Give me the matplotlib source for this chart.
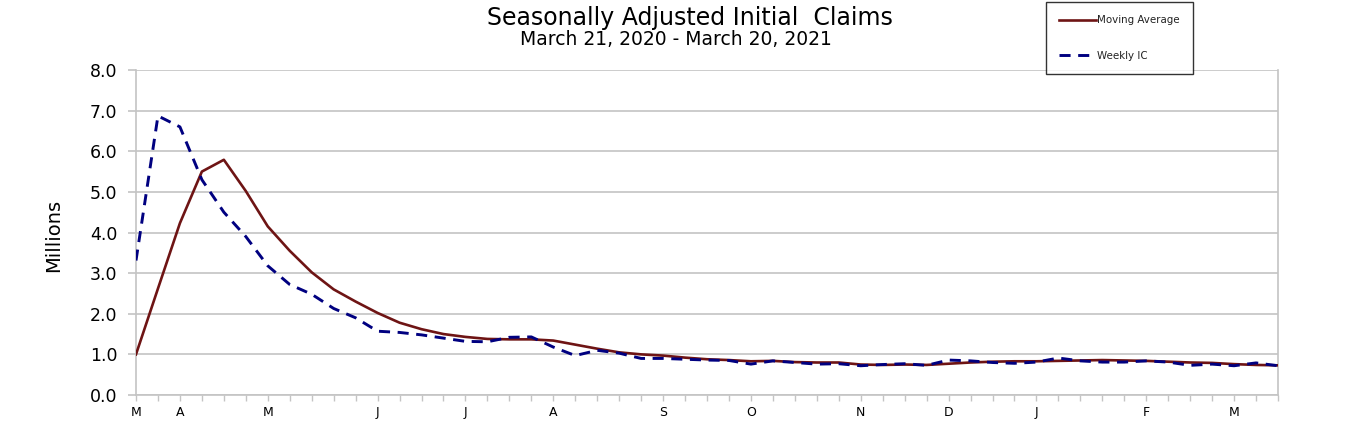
import matplotlib
matplotlib.use('Agg')
import matplotlib.pyplot as plt
from matplotlib.lines import Line2D

# weekly values, week ending March 21, 2020 through March 20, 2021 (millions)
weekly_ic = [3.31, 6.87, 6.60, 5.30, 4.50, 3.90, 3.18, 2.72, 2.48, 2.13,
             1.90, 1.57, 1.54, 1.48, 1.40, 1.32, 1.31, 1.42, 1.43, 1.18,
             0.97, 1.10, 1.03, 0.90, 0.90, 0.88, 0.86, 0.85, 0.76, 0.84,
             0.80, 0.76, 0.77, 0.72, 0.75, 0.77, 0.73, 0.86, 0.84, 0.80,
             0.78, 0.81, 0.91, 0.84, 0.81, 0.81, 0.84, 0.81, 0.73, 0.76,
             0.72, 0.79, 0.72]
moving_avg = [1.00, 2.62, 4.23, 5.50, 5.79, 5.02, 4.15, 3.55, 3.02, 2.60,
              2.30, 2.02, 1.78, 1.62, 1.50, 1.43, 1.38, 1.37, 1.37, 1.34,
              1.24, 1.14, 1.05, 1.00, 0.97, 0.92, 0.88, 0.86, 0.83, 0.84,
              0.81, 0.80, 0.80, 0.75, 0.74, 0.75, 0.74, 0.77, 0.80, 0.82,
              0.83, 0.83, 0.84, 0.85, 0.86, 0.85, 0.84, 0.82, 0.80, 0.79,
              0.76, 0.74, 0.73]
# first week of each month and its letter
month_weeks = [0, 2, 6, 11, 15, 19, 24, 28, 33, 37, 41, 46, 50]
month_labels = ['M', 'A', 'M', 'J', 'J', 'A', 'S', 'O', 'N', 'D', 'J', 'F', 'M']

plt.rcParams['font.family'] = ['DejaVu Sans']
grid_c = '#C4C4C4'
ma_c = '#6E1414'
ic_c = '#000080'

weeks = list(range(len(weekly_ic)))

fig = plt.figure(figsize=(13.72, 4.42), dpi=100)
ax = fig.add_axes([136/1372, 47/442, 1142/1372, 325/442])

ax.plot(weeks, moving_avg, color=ma_c, lw=1.9, solid_joinstyle='round',
        zorder=3)
ax.plot(weeks, weekly_ic, color=ic_c, lw=2.1, linestyle=(0, (3.8, 2.6)),
        zorder=4)

ax.set_xlim(0, len(weeks) - 1)
ax.set_ylim(0, 8)
ax.set_yticks(range(0, 9))
ax.set_yticklabels([f'{v:.1f}' for v in range(0, 9)])
ax.set_xticks(month_weeks)
ax.set_xticklabels(month_labels)
ax.set_xticks(weeks, minor=True)
ax.yaxis.grid(True, color=grid_c, lw=1.2)
ax.set_axisbelow(True)

for s in ['left', 'right', 'bottom']:
    ax.spines[s].set_color(grid_c)
    ax.spines[s].set_linewidth(1.2)
ax.spines['top'].set_visible(False)

ax.tick_params(axis='y', direction='out', length=5.5, width=1.2, color=grid_c,
               pad=8, labelsize=12.5)
ax.tick_params(axis='x', which='both', direction='out', length=4, width=1.0,
               color=grid_c, pad=4, labelsize=9)

ax.set_ylabel('Millions', fontsize=14)
ax.yaxis.set_label_coords(-0.064, 0.49)

fig.text(0.5026, 1 - 25/442, 'Seasonally Adjusted Initial  Claims',
         ha='center', va='baseline', fontsize=17)
fig.text(0.493, 1 - 45/442, 'March 21, 2020 - March 20, 2021',
         ha='center', va='baseline', fontsize=13.5)

handles = [Line2D([], [], color=ma_c, lw=1.9),
           Line2D([], [], color=ic_c, lw=2.1, linestyle=(0, (3.8, 2.6)))]
leg = fig.legend(handles, ['Moving Average', 'Weekly IC'],
                 loc='upper left', bbox_to_anchor=(1046/1372, 1 - 2/442),
                 fontsize=7.4, frameon=True, fancybox=False, edgecolor='black',
                 handlelength=3.6, handletextpad=0.1, labelspacing=2.45,
                 borderpad=1.3, borderaxespad=0)
leg.get_frame().set_linewidth(1.0)
for t in leg.get_texts():
    t.set_color('#222222')

fig.savefig('out.png', dpi=100)
